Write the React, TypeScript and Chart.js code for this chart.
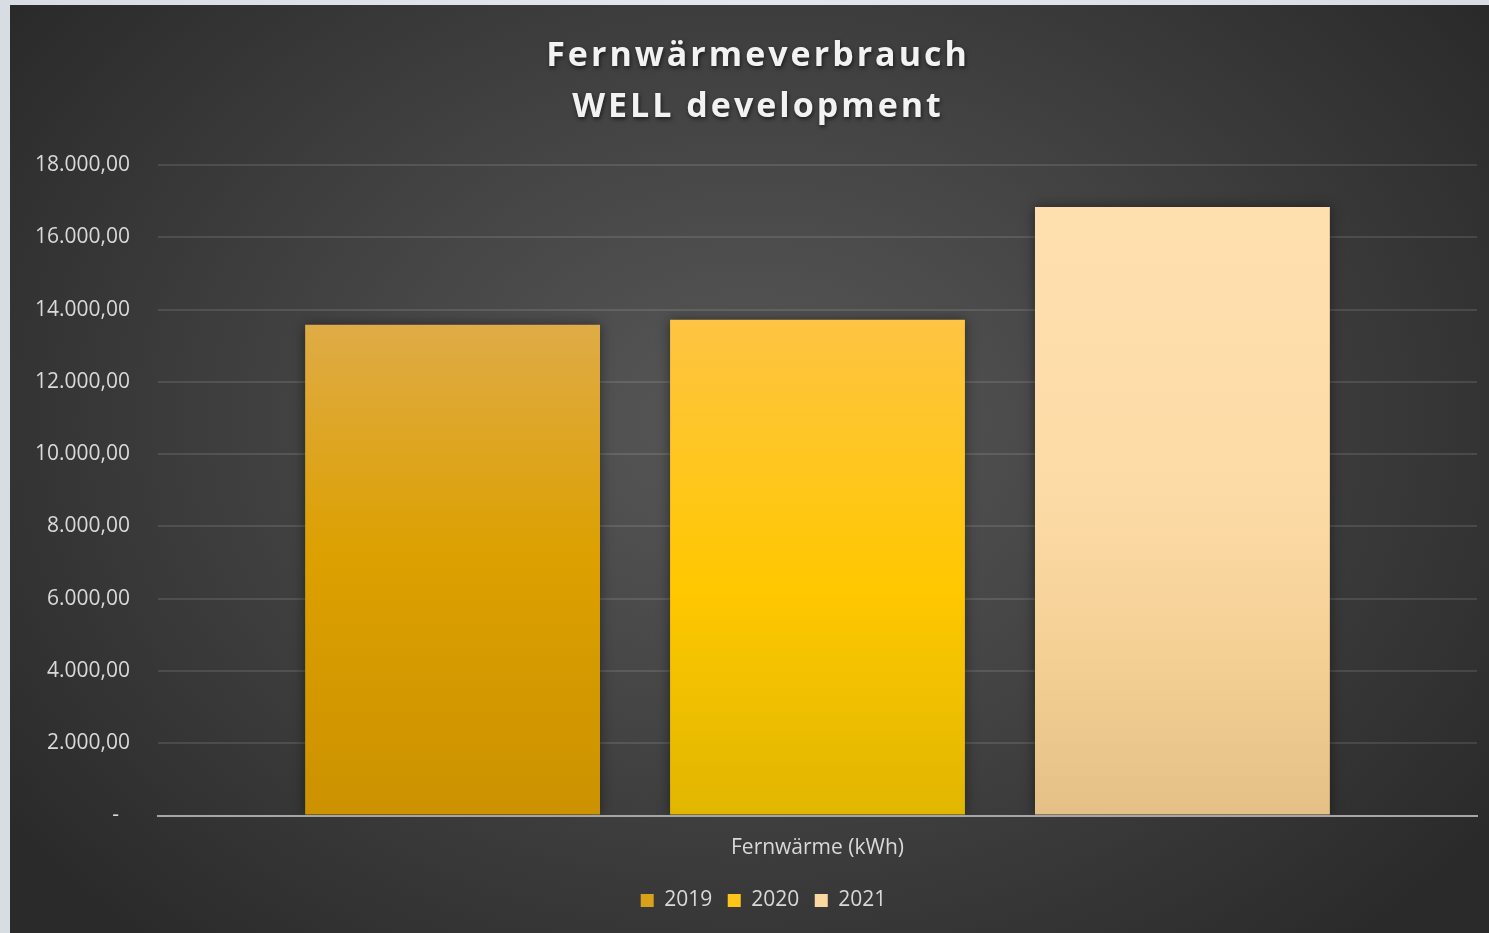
import React, { useEffect, useRef } from "react";
import { Chart, registerables } from "chart.js";

Chart.register(...registerables);

const categories = ["Fernwärme (kWh)"];
const seriesNames = ["2019", "2020", "2021"];
const values2019 = [13580];
const values2020 = [13720];
const values2021 = [16840];
const titleLines = ["Fernwärmeverbrauch", "WELL development"];
const yMax = 18000;
const yStep = 2000;

const gradientStops: [number, string][][] = [
  [[0, "#e0ae50"], [0.25, "#dfab45"], [0.6, "#dca000"], [1, "#cc9200"]],
  [[0, "#ffc84c"], [0.24, "#fec443"], [0.65, "#ffc800"], [1, "#e0b600"]],
  [[0, "#fee0b0"], [0.5, "#fddba6"], [0.75, "#f4d095"], [1, "#e5c086"]],
];
const legendColors = ["#d9a11a", "#ffc619", "#fad8a0"];

const FONT = "'Open Sans', 'DejaVu Sans', sans-serif";

function makeGradient(idx: number) {
  return (ctx: any) => {
    const chart = ctx.chart;
    const area = chart.chartArea;
    if (!area) return gradientStops[idx][1][1];
    const g = chart.ctx.createLinearGradient(0, area.top, 0, area.bottom);
    gradientStops[idx].forEach(([o, c]) => g.addColorStop(o, c));
    return g;
  };
}

const titlePlugin = {
  id: "customTitle",
  afterDraw(chart: any) {
    const ctx = chart.ctx;
    ctx.save();
    ctx.font = `bold 34px ${FONT}`;
    (ctx as any).letterSpacing = "3px";
    ctx.fillStyle = "#f2f2f2";
    ctx.textAlign = "center";
    ctx.textBaseline = "middle";
    ctx.shadowColor = "rgba(0,0,0,0.6)";
    ctx.shadowBlur = 4;
    ctx.shadowOffsetX = 1;
    ctx.shadowOffsetY = 2;
    ctx.fillText(titleLines[0], 748, 51);
    ctx.fillText(titleLines[1], 748, 102);
    ctx.restore();
  },
};

const shadowPlugin = {
  id: "barShadow",
  beforeDraw(chart: any) {
    const lg = chart.legend;
    if (lg && !lg._shifted) {
      lg.left += 20;
      lg.right += 20;
      lg._shifted = true;
    }
  },
  afterUpdate(chart: any) {
    if (chart.legend) chart.legend._shifted = false;
  },
  beforeDatasetsDraw(chart: any) {
    const ctx = chart.ctx;
    ctx.save();
    ctx.shadowColor = "rgba(0,0,0,0.45)";
    ctx.shadowBlur = 12;
  },
  afterDatasetsDraw(chart: any) {
    chart.ctx.restore();
  },
};

export default function App() {
  const ref = useRef<HTMLCanvasElement>(null);

  useEffect(() => {
    document.body.style.margin = "0";
    const canvas = ref.current!;
    const data = [values2019, values2020, values2021];
    const chart = new Chart(canvas, {
      type: "bar",
      data: {
        labels: categories,
        datasets: seriesNames.map((name, i) => ({
          label: name,
          data: data[i],
          backgroundColor: makeGradient(i),
          borderWidth: 0,
          categoryPercentage: 0.83,
          barPercentage: 0.808,
        })),
      },
      options: {
        animation: false,
        responsive: false,
        layout: { padding: { top: 160, right: 12, left: 0, bottom: 12 } },
        plugins: {
          title: { display: false },
          tooltip: { enabled: false },
          legend: {
            position: "bottom",
            labels: {
              color: "#d9d9d9",
              font: { family: FONT, size: 21 },
              boxWidth: 13,
              boxHeight: 13,
              padding: 15.5,
              generateLabels: () =>
                seriesNames.map((n, i) => ({
                  text: n,
                  fillStyle: legendColors[i],
                  strokeStyle: legendColors[i],
                  lineWidth: 0,
                  fontColor: "#d9d9d9",
                  datasetIndex: i,
                  hidden: false,
                })),
            },
          },
        },
        scales: {
          x: {
            grid: { display: false, drawTicks: false },
            border: { display: true, color: "#a6a6a6", width: 2, z: 1 },
            ticks: {
              color: "#d9d9d9",
              font: { family: FONT, size: 21 },
              padding: 20,
            },
            afterFit: (s: any) => {
              s.height = 59;
            },
          },
          y: {
            min: 0,
            max: yMax,
            ticks: {
              stepSize: yStep,
              color: "#d9d9d9",
              font: { family: FONT, size: 21 },
              padding: 28,
              callback: (v: any) =>
                v === 0
                  ? "-  "
                  : Number(v).toLocaleString("de-DE", {
                      minimumFractionDigits: 2,
                      maximumFractionDigits: 2,
                    }),
            },
            grid: {
              color: "rgba(255,255,255,0.11)",
              lineWidth: 2,
              drawTicks: false,
            },
            border: { display: false },
            afterFit: (s: any) => {
              s.width = 148;
            },
          },
        },
      },
      plugins: [shadowPlugin, titlePlugin],
    });
    return () => chart.destroy();
  }, []);

  return (
    <div
      style={{
        position: "fixed",
        inset: 0,
        background: "linear-gradient(90deg, #d8dde4, #e4e7ee 50%, #d9dce3)",
      }}
    >
      <div
        style={{
          position: "absolute",
          left: 10,
          top: 5,
          width: 1479,
          height: 928,
          background:
            "radial-gradient(ellipse 62% 75% at 50% 45%, #585858 0%, #444 45%, #2a2a2a 100%)",
        }}
      >
        <canvas
          ref={ref}
          width={1479}
          height={928}
          style={{ width: 1479, height: 928, display: "block" }}
        />
      </div>
    </div>
  );
}
